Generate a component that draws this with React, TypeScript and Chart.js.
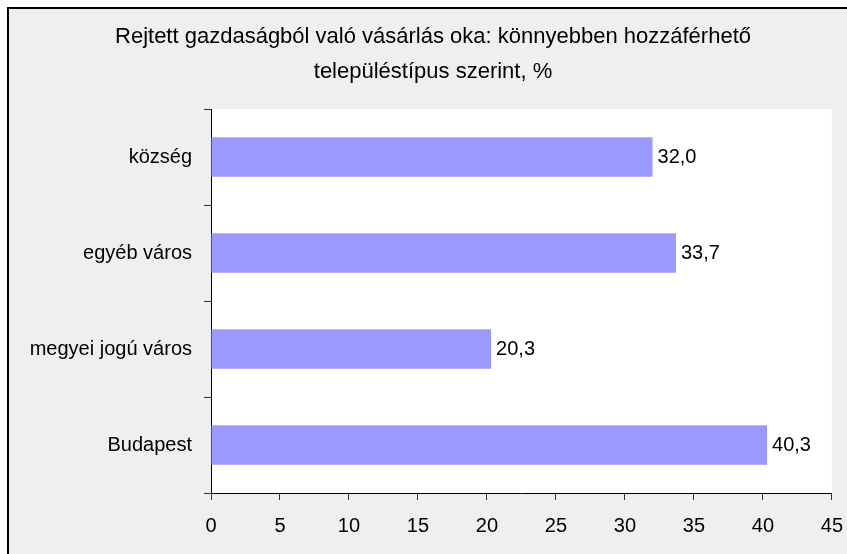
import React, { useEffect, useRef } from "react";
import { Chart, registerables } from "chart.js";

Chart.register(...registerables);

const titleLines = [
  "Rejtett gazdaságból való vásárlás oka: könnyebben hozzáférhető",
  "településtípus szerint, %",
];
const categories = ["község", "egyéb város", "megyei jogú város", "Budapest"];
const values = [32.0, 33.7, 20.3, 40.3];
const xMin = 0;
const xMax = 45;
const xStep = 5;

const FONT = "'Liberation Sans', Arial, sans-serif";

const plotBg = {
  id: "plotBg",
  beforeDraw(chart: any) {
    const { ctx, chartArea } = chart;
    ctx.save();
    ctx.fillStyle = "#ffffff";
    ctx.fillRect(chartArea.left, chartArea.top, chartArea.right - chartArea.left, chartArea.bottom - chartArea.top);
    ctx.restore();
  },
};

const titleText = {
  id: "titleText",
  afterDraw(chart: any) {
    const { ctx } = chart;
    ctx.save();
    ctx.font = `22px ${FONT}`;
    ctx.fillStyle = "#000";
    ctx.textAlign = "center";
    ctx.textBaseline = "middle";
    titleLines.forEach((line, i) => {
      ctx.fillText(line, 424, 27.5 + i * 35);
    });
    ctx.restore();
  },
};

const valueLabels = {
  id: "valueLabels",
  afterDatasetsDraw(chart: any) {
    const { ctx } = chart;
    const meta = chart.getDatasetMeta(0);
    ctx.save();
    ctx.font = `20px ${FONT}`;
    ctx.fillStyle = "#000";
    ctx.textAlign = "left";
    ctx.textBaseline = "middle";
    meta.data.forEach((bar: any, i: number) => {
      const v = chart.data.datasets[0].data[i] as number;
      ctx.fillText(v.toFixed(1).replace(".", ","), bar.x + 5, bar.y);
    });
    ctx.restore();
  },
};

export default function App() {
  const ref = useRef<HTMLCanvasElement>(null);
  useEffect(() => {
    if (!ref.current) return;
    const chart = new Chart(ref.current, {
      type: "bar",
      data: {
        labels: categories,
        datasets: [
          {
            data: values,
            backgroundColor: "#9999ff",
            borderWidth: 0,
            barPercentage: 0.41,
            categoryPercentage: 1,
          },
        ],
      },
      options: {
        indexAxis: "y",
        responsive: false,
        animation: false,
        devicePixelRatio: 1,
        layout: { padding: { top: 100, left: 0, right: 24, bottom: 46 } },
        plugins: {
          legend: { display: false },
          tooltip: { enabled: false },
          title: { display: false },
        },
        scales: {
          x: {
            type: "linear",
            min: xMin,
            max: xMax,
            position: "bottom",
            ticks: { stepSize: xStep, color: "#000", font: { family: FONT, size: 20 }, padding: 14, maxRotation: 0 },
            grid: { drawOnChartArea: false, drawTicks: true, tickLength: 7, color: "#333" },
            border: { display: true, color: "#000", width: 1 },
            afterFit: (s: any) => {
              s.height = 40;
            },
          },
          y: {
            type: "category",
            offset: true,
            ticks: { color: "#000", font: { family: FONT, size: 20 }, padding: 12 },
            grid: { offset: true, drawOnChartArea: false, drawTicks: true, tickLength: 7, color: "#333" },
            border: { display: true, color: "#000", width: 1 },
            afterFit: (s: any) => {
              s.width = 202;
            },
          },
        },
      },
      plugins: [plotBg, valueLabels, titleText],
    });
    return () => chart.destroy();
  }, []);

  return (
    <div
      style={{
        position: "absolute",
        left: 7,
        top: 7,
        width: 840,
        height: 547,
        overflow: "hidden",
        borderTop: "2px solid #000",
        borderLeft: "2px solid #000",
        boxSizing: "border-box",
        background: "#efefef",
      }}
    >
      <canvas ref={ref} width={848} height={570} style={{ display: "block", width: 848, height: 570 }} />
    </div>
  );
}
